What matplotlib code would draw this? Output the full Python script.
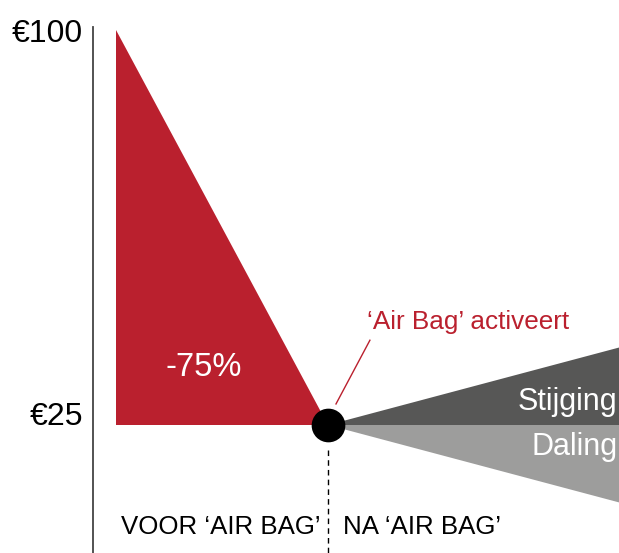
import matplotlib.pyplot as plt
from matplotlib.transforms import ScaledTranslation

plt.rcParams['font.family'] = ['Liberation Sans', 'DejaVu Sans']

# price levels (euro)
start_price = 100
airbag_price = 25
rise_price = 40
fall_price = 10

# time stages: start, air bag moment, right edge
t_start = 0.0
t_airbag = 1.0
t_end = 2.4

tick_values = [100, 25]
tick_labels = ['€100', '€25']

red = '#BA202E'
dark_grey = '#575756'
light_grey = '#9D9D9C'

fig = plt.figure(figsize=(6.19, 5.53), dpi=100)
ax = fig.add_axes([0, 0, 1, 1])
ax.set_xlim(-0.547, 2.373)
ax.set_ylim(0.7, 105.7)

# loss before the air bag
ax.fill([t_start, t_start, t_airbag], [start_price, airbag_price, airbag_price],
        color=red, lw=0, zorder=2)
# scenarios after the air bag
ax.fill([t_airbag, t_end, t_end], [airbag_price, rise_price, airbag_price],
        color=dark_grey, lw=0, zorder=2)
ax.fill([t_airbag, t_end, t_end], [airbag_price, airbag_price, fall_price],
        color=light_grey, lw=0, zorder=2)

ax.scatter([t_airbag], [airbag_price], s=540, color='black', zorder=4)
ax.plot([t_airbag, t_airbag], [20.3, 0.7], color='black', lw=1,
        ls=(0, (4, 3)), zorder=1)

# annotation
ax.plot([1.038, 1.198], [29.0, 41.1], color=red, lw=1, zorder=3)
ax.text(1.66, 44.6, '‘Air Bag’ activeert', color=red, fontsize=18.8,
        ha='center', va='center')

ax.text(0.415, 36.0, '-75%', color='white', fontsize=23.5, ha='center', va='center', zorder=3)
ax.text(2.365, 29.4, 'Stijging', color='white', fontsize=22, ha='right', va='center', zorder=3)
ax.text(2.365, 20.8, 'Daling', color='white', fontsize=22, ha='right', va='center', zorder=3)

ax.text(0.495, 5.6, 'VOOR ‘AIR BAG’', fontsize=18.6, ha='center', va='center')
ax.text(1.443, 5.6, 'NA ‘AIR BAG’', fontsize=18.6, ha='center', va='center')

# y axis
for side in ['top', 'right', 'bottom']:
    ax.spines[side].set_visible(False)
ax.spines['left'].set_position(('data', -0.108))
ax.spines['left'].set_bounds(0.7, 100.5)
ax.spines['left'].set_color('#444444')
ax.spines['left'].set_linewidth(1.3)
ax.set_xticks([])
ax.set_yticks(tick_values)
ax.set_yticklabels(tick_labels, fontsize=23)
ax.tick_params(axis='y', length=0, pad=7)
lab25 = ax.get_yticklabels()[1]
lab25.set_transform(lab25.get_transform() + ScaledTranslation(0, 8 / 72, fig.dpi_scale_trans))

fig.savefig('out.png', dpi=100)
